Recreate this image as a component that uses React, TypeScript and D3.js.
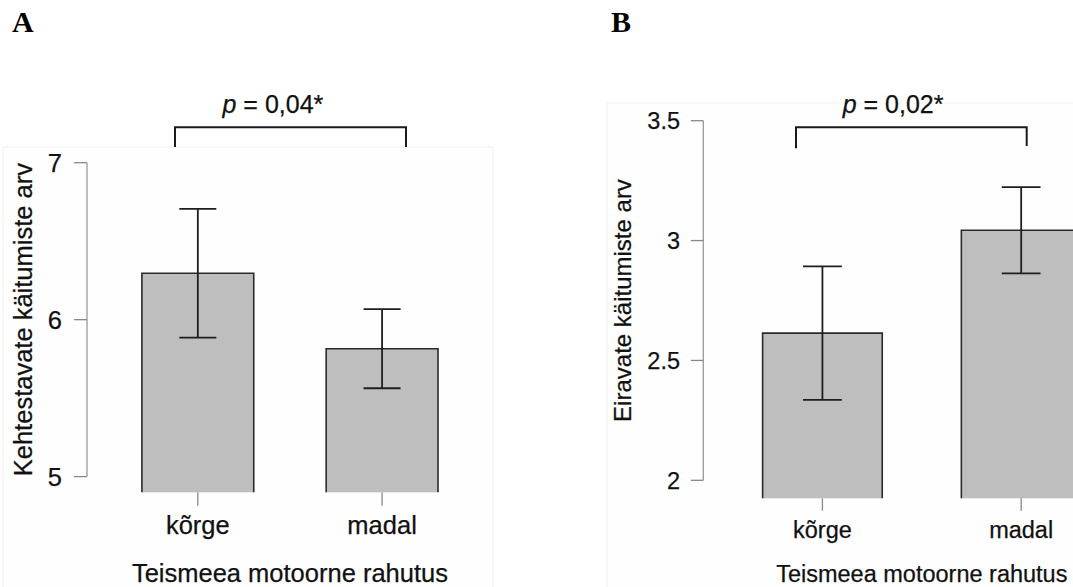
import React from "react";
import * as d3 from "d3";

// ---- data ----
const categories = ["kõrge", "madal"];

const meansA = [6.296, 5.815];
const errA = [0.41, 0.252];
const ticksA = [5, 6, 7];
const tickLabelsA = ["5", "6", "7"];
const pTextA = "0,04*";
const yTitleA = "Kehtestavate käitumiste arv";

const meansB = [2.614, 3.043];
const errB = [0.2785, 0.18];
const ticksB = [2, 2.5, 3, 3.5];
const tickLabelsB = ["2", "2.5", "3", "3.5"];
const pTextB = "0,02*";
const yTitleB = "Eiravate käitumiste arv";

const xTitle = "Teismeea motoorne rahutus";

type PanelCfg = {
  letter: string;
  letterX: number;
  means: number[];
  errs: number[];
  ticks: number[];
  tickLabels: string[];
  pText: string;
  yTitle: string;
  yDomain: [number, number];
  yRange: [number, number];
  xRange: [number, number];
  padInner: number;
  axisX: number;
  tickLen: number;
  tickLabelX: number;
  fontSize: number;
  yTitleSize: number;
  xLabelY: number;
  xTickEnd: number;
  titleY: number;
  yTitleX: number;
  capHalf: number;
  bracket: { x1: number; x2: number; y: number; yEnd1: number; yEnd2: number };
  pX: number;
  pY: number;
  bg: { x: number; y: number; w: number; h: number };
};

const SANS = "'Liberation Sans', Arial, Helvetica, sans-serif";
const SERIF = "'Liberation Serif', 'Times New Roman', serif";
const TXT = { fill: "#111", stroke: "#111", strokeWidth: 0.25 };

function Panel({ c }: { c: PanelCfg }) {
  const y = d3.scaleLinear().domain(c.yDomain).range(c.yRange);
  const x = d3
    .scaleBand<string>()
    .domain(categories)
    .range(c.xRange)
    .paddingInner(c.padInner)
    .paddingOuter(0);
  const bw = x.bandwidth();
  const base = y(c.yDomain[0]);
  const tMin = y(d3.min(c.ticks) as number);
  const tMax = y(d3.max(c.ticks) as number);
  const yMid = (tMin + tMax) / 2;
  const xMid = (c.xRange[0] + c.xRange[1]) / 2;
  return (
    <g>
      <rect
        x={c.bg.x}
        y={c.bg.y}
        width={c.bg.w}
        height={c.bg.h}
        fill="#fefefe"
        stroke="#f2f2f2"
        strokeWidth={1}
      />
      <text
        x={c.letterX}
        y={31.7}
        fontFamily={SERIF}
        fontWeight="bold"
        fontSize={30}
        fill="#000"
      >
        {c.letter}
      </text>
      {/* significance bracket */}
      <path
        d={`M${c.bracket.x1},${c.bracket.yEnd1}V${c.bracket.y}H${c.bracket.x2}V${c.bracket.yEnd2}`}
        fill="none"
        stroke="#1a1a1a"
        strokeWidth={2}
      />
      <text x={c.pX} y={c.pY} fontFamily={SANS} fontSize={25} {...TXT}>
        <tspan fontStyle="italic">p</tspan>
        <tspan> = {c.pText}</tspan>
      </text>
      {/* y axis */}
      <line x1={c.axisX} x2={c.axisX} y1={tMin} y2={tMax} stroke="#999" strokeWidth={1.3} />
      {c.ticks.map((t, i) => (
        <g key={i}>
          <line
            x1={c.axisX - c.tickLen}
            x2={c.axisX}
            y1={y(t)}
            y2={y(t)}
            stroke="#888"
            strokeWidth={1.3}
          />
          <text
            x={c.tickLabelX}
            y={y(t)}
            dy="0.35em"
            textAnchor="end"
            fontFamily={SANS}
            fontSize={c.fontSize}
            {...TXT}
          >
            {c.tickLabels[i]}
          </text>
        </g>
      ))}
      <text
        transform={`translate(${c.yTitleX},${yMid}) rotate(-90)`}
        textAnchor="middle"
        fontFamily={SANS}
        fontSize={c.yTitleSize}
        {...TXT}
      >
        {c.yTitle}
      </text>
      {/* bars */}
      {categories.map((cat, i) => {
        const x0 = x(cat) as number;
        const cx = x0 + bw / 2;
        const top = y(c.means[i]);
        const hi = y(c.means[i] + c.errs[i]);
        const lo = y(c.means[i] - c.errs[i]);
        return (
          <g key={cat}>
            <rect x={x0} y={top} width={bw} height={base - top} fill="#bebebe" />
            <path
              d={`M${x0},${base}V${top}H${x0 + bw}V${base}`}
              fill="none"
              stroke="#2a2a2a"
              strokeWidth={1.6}
            />
            <line x1={cx} x2={cx} y1={hi} y2={lo} stroke="#1e1e1e" strokeWidth={1.8} />
            <line x1={cx - c.capHalf} x2={cx + c.capHalf} y1={hi} y2={hi} stroke="#1e1e1e" strokeWidth={1.8} />
            <line x1={cx - c.capHalf} x2={cx + c.capHalf} y1={lo} y2={lo} stroke="#1e1e1e" strokeWidth={1.8} />
            <line x1={cx} x2={cx} y1={base} y2={c.xTickEnd} stroke="#888" strokeWidth={1.3} />
            <text
              x={cx}
              y={c.xLabelY}
              textAnchor="middle"
              fontFamily={SANS}
              fontSize={c.fontSize}
              {...TXT}
            >
              {cat}
            </text>
          </g>
        );
      })}
      <text
        x={xMid}
        y={c.titleY}
        textAnchor="middle"
        fontFamily={SANS}
        fontSize={c.fontSize}
        {...TXT}
      >
        {xTitle}
      </text>
    </g>
  );
}

const panelA: PanelCfg = {
  letter: "A",
  letterX: 12,
  means: meansA,
  errs: errA,
  ticks: ticksA,
  tickLabels: tickLabelsA,
  pText: pTextA,
  yTitle: yTitleA,
  yDomain: [4.9, 7],
  yRange: [492.3, 162.7],
  xRange: [141.9, 438],
  padInner: 0.393,
  axisX: 87,
  tickLen: 13,
  tickLabelX: 62,
  fontSize: 25.5,
  yTitleSize: 25.5,
  xLabelY: 534,
  xTickEnd: 505.7,
  titleY: 581.7,
  yTitleX: 32,
  capHalf: 18.5,
  bracket: { x1: 175, x2: 406, y: 127.3, yEnd1: 147, yEnd2: 147 },
  pX: 222.5,
  pY: 112.7,
  bg: { x: 3, y: 147, w: 490, h: 460 },
};

const panelB: PanelCfg = {
  letter: "B",
  letterX: 611,
  means: meansB,
  errs: errB,
  ticks: ticksB,
  tickLabels: tickLabelsB,
  pText: pTextB,
  yTitle: yTitleB,
  yDomain: [1.925, 3.5],
  yRange: [498.3, 120.7],
  xRange: [762.6, 1081],
  padInner: 0.398,
  axisX: 703.3,
  tickLen: 12.5,
  tickLabelX: 680,
  fontSize: 23.5,
  yTitleSize: 24,
  xLabelY: 537.7,
  xTickEnd: 510.7,
  titleY: 581.7,
  yTitleX: 631,
  capHalf: 19.4,
  bracket: { x1: 796, x2: 1026.7, y: 127.3, yEnd1: 148.3, yEnd2: 146 },
  pX: 842.7,
  pY: 112.7,
  bg: { x: 607, y: 103, w: 480, h: 500 },
};

export default function App() {
  return (
    <svg
      width={1073}
      height={587}
      viewBox="0 0 1073 587"
      style={{ position: "absolute", left: 0, top: 0, background: "#fff" }}
    >
      <rect x={0} y={0} width={1073} height={587} fill="#fff" />
      <Panel c={panelA} />
      <Panel c={panelB} />
    </svg>
  );
}
